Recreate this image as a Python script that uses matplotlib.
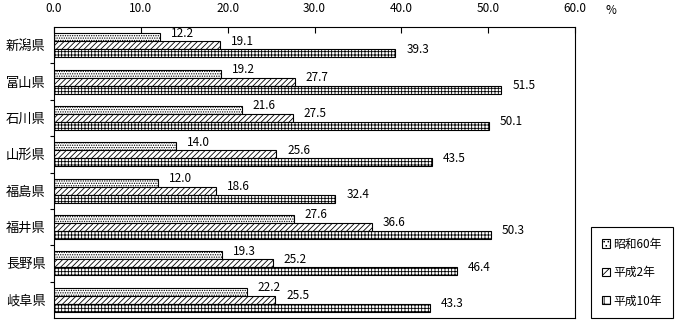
import matplotlib
matplotlib.use('Agg')
import matplotlib.pyplot as plt
from matplotlib.patches import Patch
import numpy as np

plt.rcParams['font.family'] = ['Noto Sans CJK JP', 'DejaVu Sans']
plt.rcParams['hatch.linewidth'] = 0.6

prefectures = ['新潟県', '富山県', '石川県', '山形県', '福島県', '福井県', '長野県', '岐阜県']
series_names = ['昭和60年', '平成2年', '平成10年']
showa60 = [12.2, 19.2, 21.6, 14.0, 12.0, 27.6, 19.3, 22.2]
heisei2 = [19.1, 27.7, 27.5, 25.6, 18.6, 36.6, 25.2, 25.5]
heisei10 = [39.3, 51.5, 50.1, 43.5, 32.4, 50.3, 46.4, 43.3]
x_ticks = [0, 10, 20, 30, 40, 50, 60]

HATCHES = ['.......', '//////', '+++++']
BAR_H = 0.22


def main():
    fig = plt.figure(figsize=(6.8, 3.25), dpi=100)
    ax = fig.add_axes([54 / 680, 7 / 325, 521 / 680, 291 / 325])

    pos = np.arange(len(prefectures))
    for k, values in enumerate([showa60, heisei2, heisei10]):
        y = pos + (k - 1) * BAR_H
        ax.barh(y, values, height=BAR_H, color='white', edgecolor='black',
                hatch=HATCHES[k], linewidth=0.8)
        for yy, v in zip(y, values):
            ax.annotate(f'{v:.1f}', (v, yy), xytext=(8, 3),
                        textcoords='offset points', va='center', ha='left',
                        fontsize=8.5)

    ax.set_xlim(0, 60)
    ax.set_ylim(len(prefectures) - 0.5, -0.5)
    ax.xaxis.tick_top()
    ax.set_xticks(x_ticks)
    ax.set_xticklabels([f'{t:.1f}' for t in x_ticks], fontsize=8.5)
    ax.tick_params(axis='x', direction='in', length=4, pad=9, width=0.8)
    ax.set_yticks(pos)
    ax.set_yticklabels(prefectures, fontsize=9.5)
    ax.tick_params(axis='y', which='major', length=0, pad=6)
    ax.set_yticks(pos[:-1] + 0.5, minor=True)
    ax.tick_params(axis='y', which='minor', length=3, direction='out', width=0.8)
    for s in ax.spines.values():
        s.set_linewidth(0.8)

    fig.text(605 / 680, 1 - 10 / 325, '%', fontsize=8.5, ha='left', va='center')

    handles = [Patch(facecolor='white', edgecolor='black', hatch=h, linewidth=0.8)
               for h in ['....', '///', '++']]
    leg = fig.legend(handles, series_names, loc='lower left',
                     bbox_to_anchor=(591 / 680, 7 / 325), fontsize=8.5,
                     handlelength=0.7, handleheight=0.7, handletextpad=0.3,
                     labelspacing=1.3, fancybox=False, framealpha=1,
                     borderpad=0.9, borderaxespad=0)
    leg.get_frame().set_edgecolor('black')
    leg.get_frame().set_linewidth(0.8)

    fig.savefig('out.png', dpi=100)


if __name__ == '__main__':
    main()
